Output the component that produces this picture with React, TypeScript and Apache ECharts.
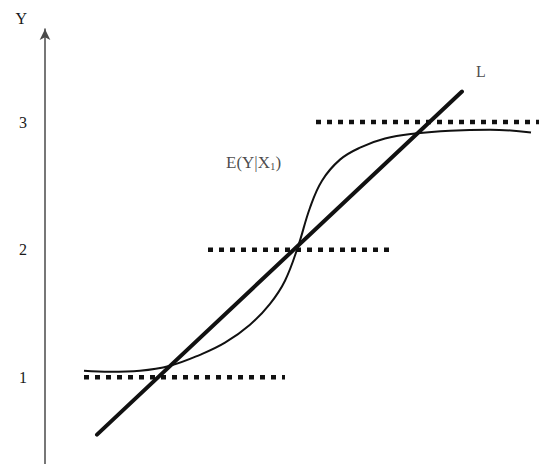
import React, { useEffect, useRef } from "react";
import * as echarts from "echarts";

const yTickValues = [1, 2, 3];
const lineL = [
  [1.04, 0.55],
  [8.34, 3.24],
];
const curveX = [0.78, 1.3, 1.9, 2.5, 3.1, 3.6, 4.1, 4.5, 4.8, 5.06, 5.3, 5.54, 5.9, 6.3, 6.8, 7.4, 8.1, 8.9, 9.72];
const curveY = [1.051, 1.043, 1.051, 1.09, 1.176, 1.271, 1.412, 1.576, 1.757, 2.024, 2.329, 2.541, 2.706, 2.8, 2.871, 2.91, 2.933, 2.941, 2.918];
const level1 = [
  [0.78, 1],
  [4.8, 1],
];
const level2 = [
  [3.26, 2],
  [6.98, 2],
];
const level3 = [
  [5.42, 3],
  [9.88, 3],
];
const labelCurve = { name: "E(Y|X{s|1})", x: 3.62, y: 2.68 };
const labelL = { name: "L", x: 8.72, y: 3.4 };

const FONT = "'Liberation Serif', 'DejaVu Serif', serif";
const INK = "#111";

export default function App() {
  const ref = useRef<HTMLDivElement>(null);
  useEffect(() => {
    document.body.style.margin = "0";
    const chart = echarts.init(ref.current!, null, { renderer: "svg" });
    const dotted = (data: number[][]) => ({
      type: "line",
      data,
      symbol: "none",
      silent: true,
      lineStyle: { color: INK, width: 4.5, type: [5, 6], cap: "butt" },
    });
    const textMark = (l: { name: string; x: number; y: number }, align: string, size: number) => ({
      type: "scatter",
      data: [[l.x, l.y]],
      symbolSize: 0,
      silent: true,
      label: {
        show: true,
        position: [0, 0],
        align,
        verticalAlign: "middle",
        formatter: l.name,
        fontFamily: FONT,
        fontSize: size,
        color: "#1a1a1a",
        rich: {
          s: { fontFamily: FONT, fontSize: 11, color: "#1a1a1a", padding: [7, 0, 0, 0] },
        },
      },
    });
    chart.setOption({
      animation: false,
      backgroundColor: "#fff",
      grid: { left: 45, right: 11, top: 29, bottom: 0 },
      xAxis: { type: "value", min: 0, max: 10, show: false },
      yAxis: {
        type: "value",
        min: 0.32,
        max: 3.73,
        name: "Y",
        nameLocation: "end",
        nameGap: 11,
        nameTextStyle: {
          fontFamily: FONT,
          fontSize: 16,
          color: "#1a1a1a",
          align: "right",
          verticalAlign: "middle",
          padding: [0, 18, 0, 0],
        },
        axisLine: {
          show: true,
          symbol: ["none", "arrow"],
          symbolSize: [8, 11],
          lineStyle: { color: "#4a4a4a", width: 1.5 },
        },
        axisTick: { show: false },
        splitLine: { show: false },
        axisLabel: {
          customValues: yTickValues,
          margin: 18,
          fontFamily: FONT,
          fontSize: 16,
          color: "#1a1a1a",
        },
      },
      series: [
        dotted(level1),
        dotted(level2),
        dotted(level3),
        {
          type: "line",
          data: curveX.map((x, i) => [x, curveY[i]]),
          symbol: "none",
          smooth: 0.4,
          lineStyle: { color: INK, width: 2 },
        },
        {
          type: "line",
          data: lineL,
          symbol: "none",
          lineStyle: { color: INK, width: 4, cap: "round" },
        },
        textMark(labelCurve, "left", 17),
        textMark(labelL, "center", 16),
      ],
    });
    return () => chart.dispose();
  }, []);
  return <div ref={ref} style={{ width: 556, height: 464 }} />;
}
